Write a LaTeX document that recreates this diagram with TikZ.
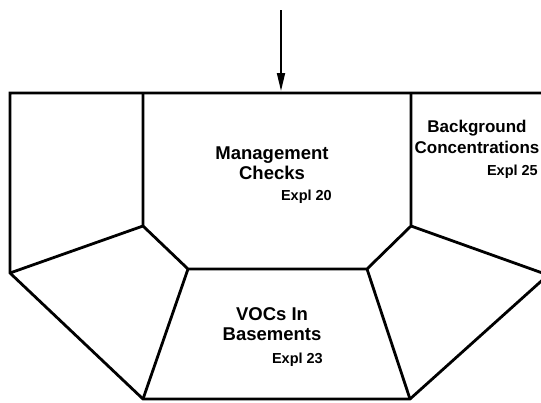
\documentclass[tikz,border=0pt]{standalone}
\usepackage{fontspec}
\setmainfont{Liberation Sans}
\usetikzlibrary{arrows.meta}
\begin{document}
\begin{tikzpicture}[x=1pt,y=-1pt,
  wall/.style={line width=2.8pt, line join=miter},
  title/.style={font=\bfseries\fontsize{18.5}{20.5}\selectfont, align=center, inner sep=0pt},
  expl/.style={font=\bfseries\fontsize{14.5}{16}\selectfont, inner sep=0pt, anchor=east}]
\useasboundingbox (0,0) rectangle (541,402);
\begin{scope}
\clip (0,0) rectangle (541,402);
% corner points
\coordinate (TL) at (10,93);
\coordinate (TR) at (548,93);
\coordinate (A) at (143,93);
\coordinate (B) at (411,93);
\coordinate (C) at (143,226);
\coordinate (D) at (411,226);
\coordinate (E) at (188,269);
\coordinate (F) at (367,269);
\coordinate (G) at (143,399);
\coordinate (H) at (410,399);
\coordinate (L) at (10,273);
\coordinate (R) at (548,275);
% outline
\draw[wall] (TR) -- (TL) -- (L) -- (G) -- (H) -- (R);
\draw[wall] (A) -- (C) -- (E) -- (F) -- (D) -- (B);
\draw[wall] (C) -- (L);
\draw[wall] (D) -- (R);
\draw[wall] (E) -- (G);
\draw[wall] (F) -- (H);
\end{scope}
% arrow
\coordinate (top) at (281,10);
\coordinate (tgt) at (281,91);
\draw[line width=1.8pt, -{Triangle[length=18pt,width=8pt]}] (top) -- (tgt);
% labels
\node[title] (mgmt) at (272,163) {Management\\Checks};
\node[expl] (e20) at (332,197) {Expl 20};
\node[title, font=\bfseries\fontsize{17}{20.5}\selectfont] (bg) at (477,137) {Background\\Concentrations};
\node[expl] (e25) at (538,172) {Expl 25};
\node[title] (voc) at (272,324) {VOCs In\\Basements};
\node[expl] (e23) at (323,360) {Expl 23};
\end{tikzpicture}
\end{document}
